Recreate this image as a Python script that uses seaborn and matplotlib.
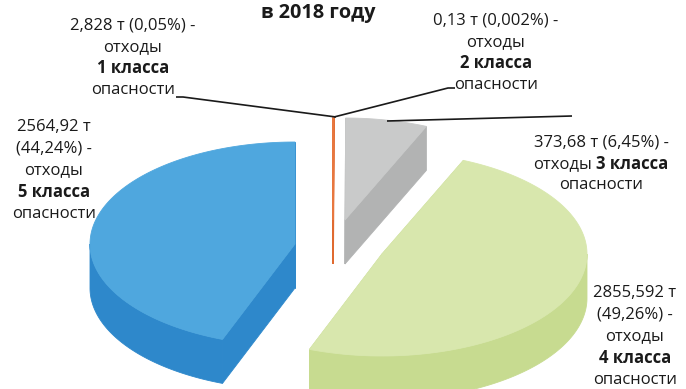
import numpy as np
import matplotlib
matplotlib.use("Agg")
import matplotlib.pyplot as plt
import seaborn as sns

# Waste by hazard class, 2018
hazard_class = [1, 2, 3, 4, 5]
tonnes = [2.828, 0.13, 373.68, 2855.592, 2564.92]
percent = [0.05, 0.002, 6.45, 49.26, 44.24]
title = "в 2018 году"

sns.set_theme(style="white")
plt.rcParams["font.family"] = ["Open Sans", "DejaVu Sans"]

top_colors = ["#e8773f", "#e8773f", "#c9caca", "#d8e7ad", "#4fa7de"]
side_colors = ["#e06a30", "#e06a30", "#b2b3b3", "#c7db90", "#2e88cb"]
edge_widths = [1.3, 0.0, 0.6, 0.6, 0.6]

W, H = 686, 389
fig = plt.figure(figsize=(W / 100, H / 100), dpi=100)
ax = fig.add_axes([0, 0, 1, 1])
ax.set_xlim(0, W)
ax.set_ylim(H, 0)
ax.axis("off")

# 3D pie geometry (screen units)
RX, RY, DEPTH = 205, 102, 44
BASE = np.array([335.0, 235.0])
shift = [(-2, -15), (10, -15), (10, -15), (47, 19), (-40, 9)]


def point(c, ang, drop=0.0):
    a = np.radians(ang)
    return np.array([c[0] + RX * np.cos(a), c[1] - RY * np.sin(a) + drop])


def rim(c, a0, a1, drop=0.0, n=160):
    th = np.radians(np.linspace(a0, a1, n))
    return np.column_stack([c[0] + RX * np.cos(th), c[1] - RY * np.sin(th) + drop])


share = np.array(tonnes) / np.sum(tonnes) * 360.0
ends = 90.0 - np.cumsum(share)
starts = ends + share

centers = [BASE + np.array(s, dtype=float) for s in shift]
order = sorted(range(len(tonnes)), key=lambda i: centers[i][1])

for z, i in enumerate(order):
    c = centers[i]
    a, b = ends[i], starts[i]
    kw = dict(edgecolor=side_colors[i], linewidth=edge_widths[i], zorder=2 + z)
    # cut faces
    for ang in (a, b):
        p = point(c, ang)
        quad = np.array([c, p, p + [0, DEPTH], c + [0, DEPTH]])
        ax.fill(quad[:, 0], quad[:, 1], facecolor=side_colors[i], **kw)
    # visible outer wall (front half of the ellipse)
    for k in (-1, 0, 1):
        lo, hi = max(a, -180 + 360 * k), min(b, 360 * k)
        if lo < hi:
            wall = np.vstack([rim(c, lo, hi), rim(c, hi, lo, DEPTH)])
            ax.fill(wall[:, 0], wall[:, 1], facecolor=side_colors[i], **kw)
    # top face
    top = np.vstack([c, rim(c, a, b), c])
    kw_top = dict(kw)
    kw_top["edgecolor"] = top_colors[i]
    ax.fill(top[:, 0], top[:, 1], facecolor=top_colors[i], **kw_top)


def num(v):
    return str(v).replace(".", ",")


FS = 12
LINE = 21.7
TXT = "#1a1a1a"
renderer = fig.canvas.get_renderer()


def label_block(x, y0, lines):
    for j, line in enumerate(lines):
        y = y0 + j * LINE
        if isinstance(line, tuple):
            ax.text(x, y, line[0], ha="center", va="center", fontsize=FS,
                    fontweight=line[1], color=TXT, zorder=20)
        elif isinstance(line, list):
            parts = [ax.text(0, y, s, ha="left", va="center", fontsize=FS,
                             fontweight=w, color=TXT, zorder=20) for s, w in line]
            widths = [t.get_window_extent(renderer).width for t in parts]
            gap = 4
            total = sum(widths) + gap * (len(parts) - 1)
            xs = x - total / 2
            for t, wdt in zip(parts, widths):
                t.set_x(xs)
                xs += wdt + gap
        else:
            ax.text(x, y, line, ha="center", va="center", fontsize=FS,
                    color=TXT, zorder=20)


head = [f"{num(t)} т ({num(p)}%) -" for t, p in zip(tonnes, percent)]
label_block(133, 25, [head[0], "отходы", (f"{hazard_class[0]} класса", "bold"), "опасности"])
label_block(496, 20, [head[1], "отходы", (f"{hazard_class[1]} класса", "bold"), "опасности"])
label_block(601, 142, [head[2], [("отходы", "normal"), (f"{hazard_class[2]} класса", "bold")], "опасности"])
label_block(635, 293, [f"{num(tonnes[3])} т", f"({num(percent[3])}%) -", "отходы",
                       (f"{hazard_class[3]} класса", "bold"), "опасности"])
label_block(54, 127, [f"{num(tonnes[4])} т", f"({num(percent[4])}%) -", "отходы",
                      (f"{hazard_class[4]} класса", "bold"), "опасности"])

# leader lines
lk = dict(color=TXT, linewidth=1.2, zorder=15, solid_capstyle="butt")
ax.plot([176, 183, 336], [97, 97, 117], **lk)
ax.plot([455, 448, 334], [88, 88, 117], **lk)
ax.plot([387, 572], [121, 116], **lk)

ax.text(318, 13, title, ha="center", va="center", fontsize=14.3, fontweight="bold",
        color=TXT, zorder=20)

fig.savefig("out.png", dpi=100, facecolor="white")
